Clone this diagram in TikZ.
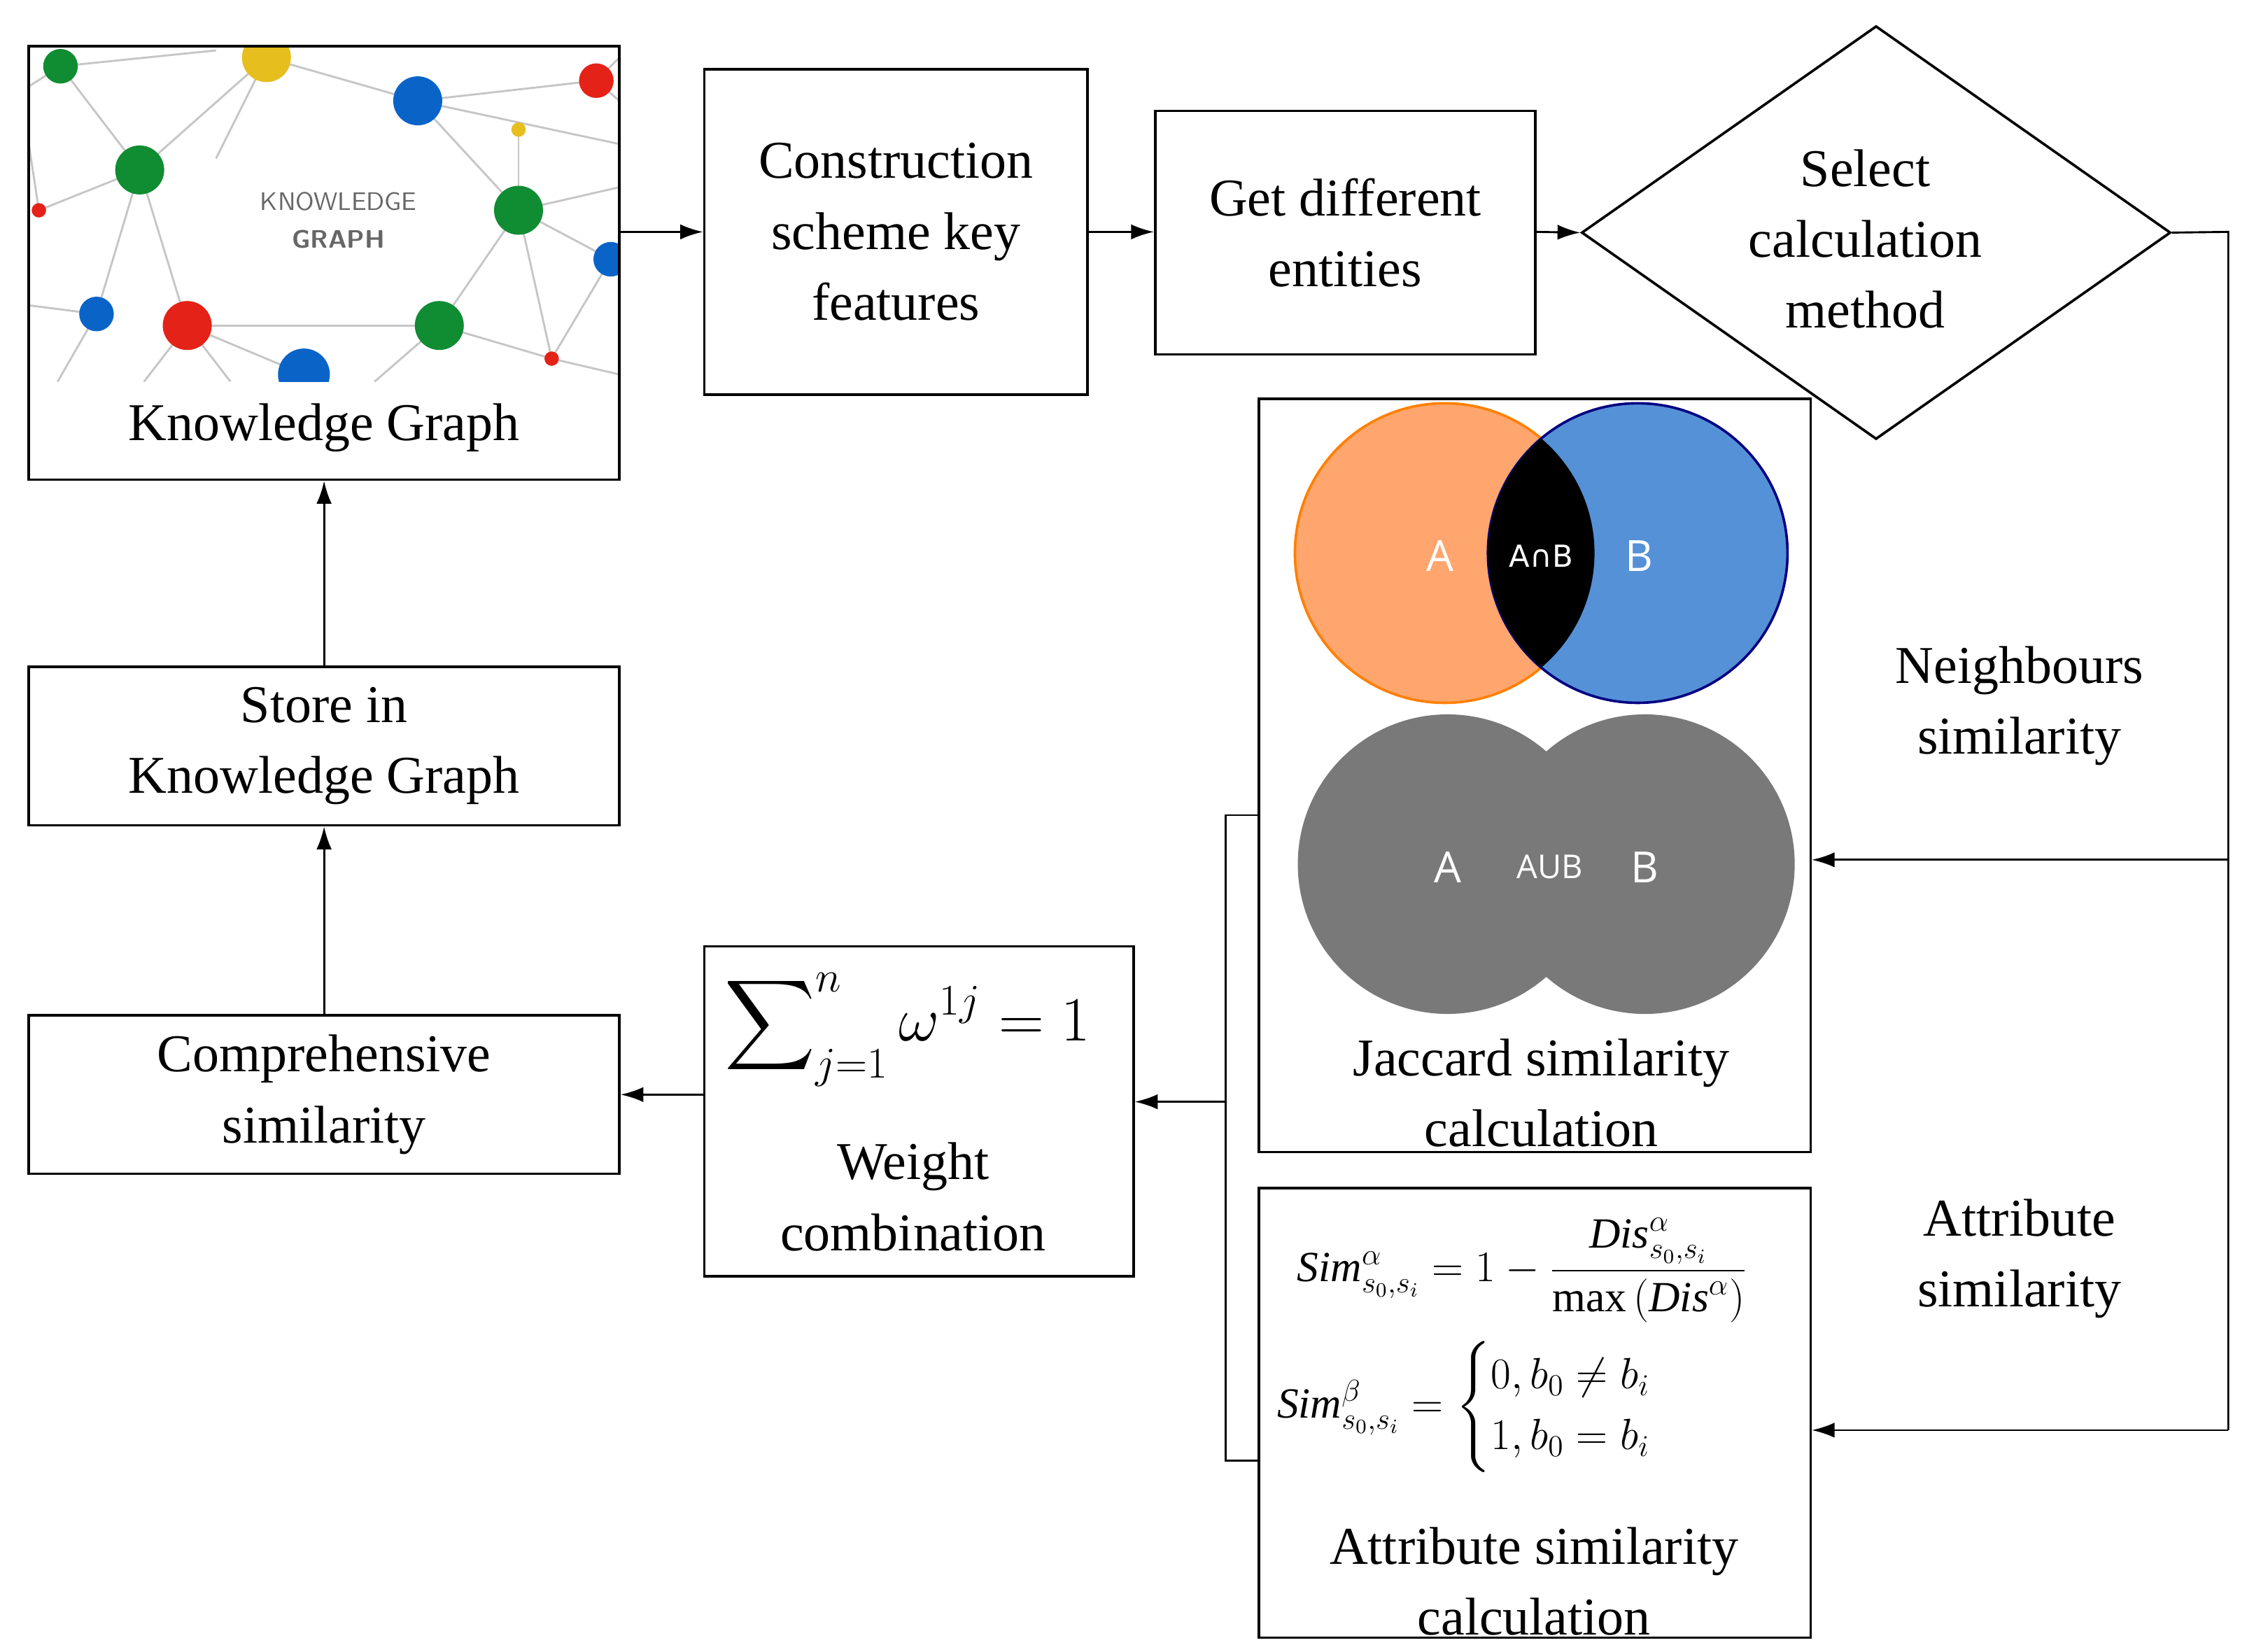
\documentclass[tikz,border=0pt]{standalone}
\usepackage{fontspec}
\usepackage{amsmath}
\setmainfont{Liberation Serif}
\newfontfamily\circfont{Open Sans}
\newfontfamily\capfont{DejaVu Sans}
\usetikzlibrary{arrows.meta,shapes.geometric}
\definecolor{kgg}{RGB}{16,140,50}
\definecolor{kgr}{RGB}{228,34,24}
\definecolor{kgb}{RGB}{10,100,200}
\definecolor{kgy}{RGB}{230,190,30}
\definecolor{vor}{RGB}{255,165,110}
\definecolor{vbl}{RGB}{85,145,215}
\begin{document}
\begin{tikzpicture}[x=0.02cm,y=-0.02cm,
 box/.style={draw,line width=1pt,inner sep=0pt},
 txt/.style={font=\fontsize{21}{28}\selectfont,align=center},
 arr/.style={-{Latex[length=9pt,width=6pt]},line width=0.8pt},
 ln/.style={line width=0.8pt}]
\useasboundingbox (0,0) rectangle (1560,1147);
% knowledge graph picture
\begin{scope}
\clip (20,32) rectangle (430,265);
\foreach \p/\q in {{42,46}/{97,118},{42,46}/{20,60},{42,46}/{150,35},{185,40}/{97,118},{185,40}/{290,70},{185,40}/{150,110},{290,70}/{414,56},{290,70}/{360,146},{290,70}/{430,100},{360,146}/{424,180},{360,146}/{305,226},{360,146}/{430,130},{360,146}/{383,249},{97,118}/{27,146},{97,118}/{67,218},{97,118}/{130,226},{130,226}/{211,260},{130,226}/{305,226},{305,226}/{383,249},{305,226}/{260,265},{360,90}/{360,146},{67,218}/{20,212},{67,218}/{40,265},{130,226}/{100,265},{130,226}/{160,265},{383,249}/{424,180},{383,249}/{430,260},{27,146}/{20,100},{414,56}/{430,40},{414,56}/{430,70}}
  \draw[gray!45,line width=0.8pt] (\p) -- (\q);
\foreach \c/\x/\y/\r in {kgg/42/46/12,kgy/185/40/17,kgb/290/70/17,kgr/414/56/12,kgy/360/90/5,kgg/97/118/17,kgg/360/146/17,kgr/27/146/5,kgb/424/180/12,kgb/67/218/12,kgr/130/226/17,kgg/305/226/17,kgb/211/260/18,kgr/383/249/5}
  \fill[\c] (\x,\y) circle (\r);
\node[font=\sffamily\fontsize{10}{12}\selectfont,text=gray!80!black] at (235,140) {KNOWLEDGE};
\node[font=\sffamily\bfseries\fontsize{10}{12}\selectfont,text=gray!80!black] at (235,166) {GRAPH};
\end{scope}
\node[box,minimum width=410*0.02cm,minimum height=301*0.02cm] (kg) at (225,182.5) {};
\node[txt] (kgl) at (225,297) {Knowledge Graph};
\node[box,txt,minimum width=266*0.02cm,minimum height=226*0.02cm] (cons) at (622,161) {Construction\\scheme key\\features};
\node[box,txt,minimum width=264*0.02cm,minimum height=169*0.02cm] (get) at (934,161.5) {Get different\\entities};
\node[draw,line width=1pt,diamond,minimum width=409*0.02cm,minimum height=287*0.02cm,inner sep=0pt] (dia) at (1302.5,161.5) {};
\node[txt] at (1295,166) {Select\\calculation\\method};
\node[box,minimum width=383*0.02cm,minimum height=523*0.02cm] (jac) at (1065.5,538.5) {};
\node[box,minimum width=383*0.02cm,minimum height=312*0.02cm] (att) at (1065.5,981) {};
\node[box,minimum width=298*0.02cm,minimum height=229*0.02cm] (wei) at (638,771.5) {};
\node[box,txt,minimum width=410*0.02cm,minimum height=110*0.02cm] (comp) at (225,760) {Comprehensive\\similarity};
\node[box,txt,minimum width=410*0.02cm,minimum height=110*0.02cm] (store) at (225,518) {Store in\\Knowledge Graph};
% venn
\fill[vor] (1003,384) circle (104);
\draw[orange,line width=1pt] (1003,384) circle (104);
\fill[vbl] (1137,384) circle (104);
\draw[blue!50!black,line width=1pt] (1137,384) circle (104);
\begin{scope}\clip (1003,384) circle (104); \fill[black] (1137,384) circle (104);\end{scope}
\node[text=white,font=\circfont\fontsize{17}{20}\selectfont] at (1000,386) {A};
\node[text=white,font=\capfont\fontsize{12}{16}\selectfont] at (1070,386) {A∩B};
\node[text=white,font=\circfont\fontsize{17}{20}\selectfont] at (1138,386) {B};
\fill[gray!95!black] (1005,600) circle (104) (1142,600) circle (104);
\node[text=white,font=\circfont\fontsize{17}{20}\selectfont] at (1005,602) {A};
\node[text=white,font=\circfont\fontsize{13}{16}\selectfont] at (1076,602) {AUB};
\node[text=white,font=\circfont\fontsize{17}{20}\selectfont] at (1142,602) {B};
\node[txt] at (1070,759) {Jaccard similarity\\calculation};
% attribute formulas
\node[font=\fontsize{17}{20}\selectfont] at (1057,882) {$\mathit{Sim}^{\alpha}_{s_0,s_i}=1-\dfrac{\mathit{Dis}^{\alpha}_{s_0,s_i}}{\max\,(\mathit{Dis}^{\alpha})}$};
\node[font=\fontsize{17}{20}\selectfont] at (1032,977) {$\mathit{Sim}^{\beta}_{s_0,s_i}=\begin{cases}0,b_0\neq b_i\\1,b_0=b_i\end{cases}$};
\node[txt] at (1065,1098) {Attribute similarity\\calculation};
% weight
\node[font=\fontsize{24}{30}\selectfont] at (630,715) {$\displaystyle\sum\nolimits_{j=1}^{n}\omega^{1j}=1$};
\node[txt] at (634,831) {Weight\\combination};
\node[txt] at (1402,490) {Neighbours\\similarity};
\node[txt] at (1402,874) {Attribute\\similarity};
% connectors
\coordinate (r1) at (1547,161);
\coordinate (r2) at (1547,597);
\coordinate (r3) at (1547,993);
\coordinate (b1) at (851,566);
\coordinate (b2) at (851,1014);
\coordinate (b3) at (851,765);
\draw[arr] (kg.east|-0,161) -- (cons.west|-0,161);
\draw[arr] (cons.east|-0,161) -- (get.west|-0,161);
\draw[arr] (get.east|-0,161) -- (dia.west);
\draw[ln] (dia.east) -- (r1) -- (r3);
\draw[arr] (r2) -- (jac.east|-r2);
\draw[arr] (r3) -- (att.east|-r3);
\draw[ln] (jac.west|-b1) -- (b1) -- (b2) -- (att.west|-b2);
\draw[arr] (b3) -- (wei.east|-b3);
\draw[arr] (wei.west|-comp) -- (comp.east);
\draw[arr] (comp.north) -- (store.south);
\draw[arr] (store.north) -- (kg.south);
\end{tikzpicture}
\end{document}
